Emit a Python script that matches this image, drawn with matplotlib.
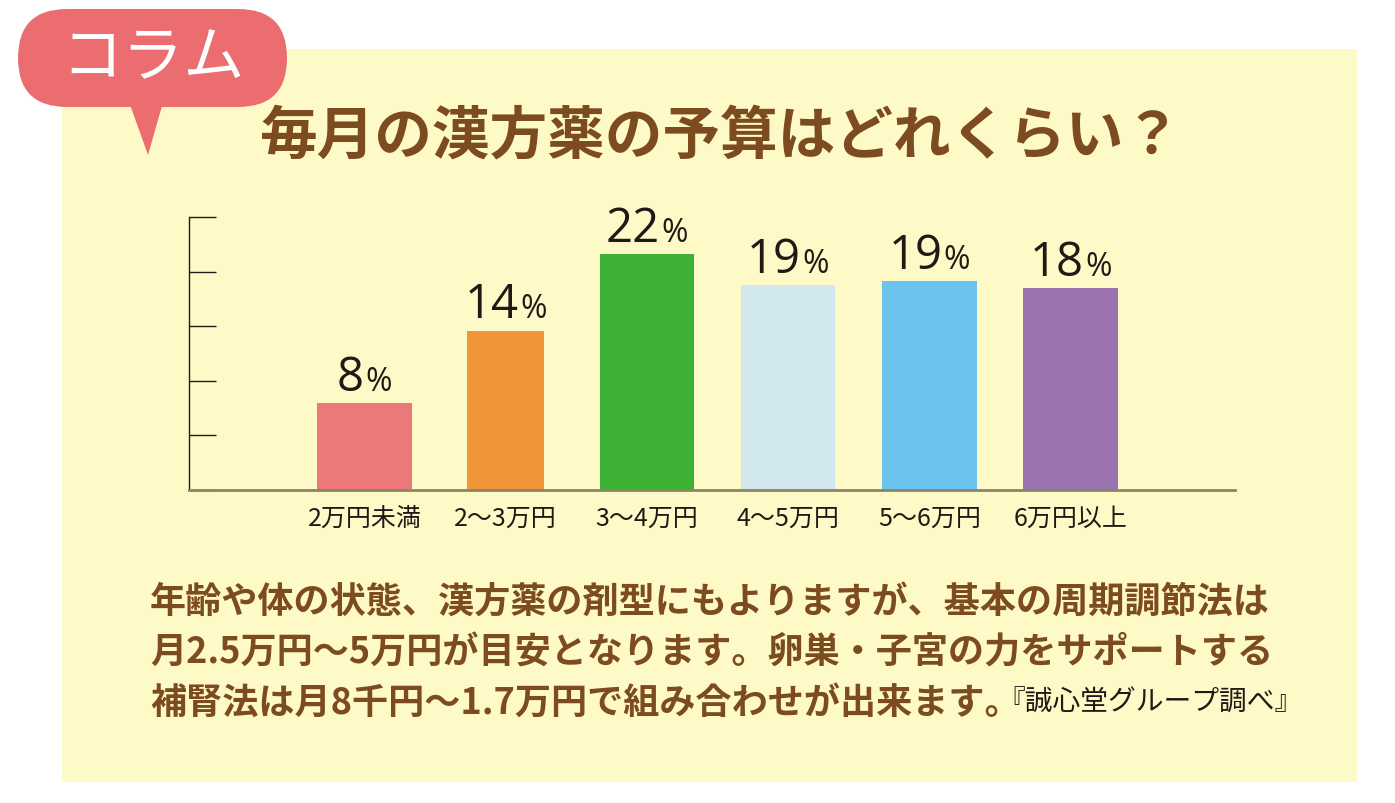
import matplotlib.pyplot as plt
from matplotlib.patches import FancyBboxPatch, Polygon, Rectangle
from matplotlib.offsetbox import TextArea, HPacker, AnnotationBbox

plt.rcParams['font.family'] = ['Noto Sans CJK JP', 'DejaVu Sans']

# data
categories = ['2万円未満', '2〜3万円', '3〜4万円', '4〜5万円', '5〜6万円', '6万円以上']
shares = [8.0, 14.6, 21.6, 18.8, 19.1, 18.5]
share_labels = ['8', '14', '22', '19', '19', '18']
title = '毎月の漢方薬の予算はどれくらい？'
note_lines = ['年齢や体の状態、漢方薬の剤型にもよりますが、基本の周期調節法は',
              '月2.5万円〜5万円が目安となります。卵巣・子宮の力をサポートする',
              '補腎法は月8千円〜1.7万円で組み合わせが出来ます。']
source = '『誠心堂グループ調べ』'

bar_colors = ['#EC7979', '#F19539', '#3EB034', '#D1E8EF', '#6BC3EE', '#9A72AE']
bar_widths = [0.67, 0.545, 0.67, 0.67, 0.67, 0.67]
brown = '#7D4B20'
ink = '#231815'

fig = plt.figure(figsize=(13.95, 8.04), dpi=100)
fig.patch.set_facecolor('white')

# background layer in pixel units
bg = fig.add_axes([0, 0, 1, 1], zorder=0)
bg.set_xlim(0, 1395)
bg.set_ylim(804, 0)
bg.axis('off')
bg.add_patch(Rectangle((62, 50), 1295, 733, color='#FEFAC7', lw=0))
bg.add_patch(FancyBboxPatch((18, 10), 269, 98, boxstyle='round,pad=0,rounding_size=49',
                            color='#EB6D6F', lw=0))
bg.add_patch(Polygon([(128, 100), (164, 100), (148, 156)], closed=True, color='#EB6D6F', lw=0))
bg.text(153, 59, 'コラム', color='white', fontsize=44, ha='center', va='center')
bg.text(721, 137, title, color=brown, fontsize=41.5, fontweight='bold', ha='center', va='center')

y0 = 603
last = None
for line in note_lines:
    last = bg.text(150, y0, line, color=brown, fontsize=26, fontweight='bold',
                   ha='left', va='center')
    y0 += 50
bg.annotate(source, xy=(1, 0.1), xycoords=last, xytext=(-17, 0), textcoords='offset points',
            color=ink, fontsize=20, ha='left', va='bottom')

# chart
ax = fig.add_axes([189 / 1395, 313 / 804, 1046 / 1395, 273 / 804], zorder=1)
ax.patch.set_alpha(0)
x = range(len(categories))
ax.bar(x, shares, width=bar_widths, color=bar_colors, zorder=2)
ax.set_xlim(-1.243, 6.165)
ax.set_ylim(0, 25)
ax.set_yticks([0, 5, 10, 15, 20, 25])
ax.set_yticklabels([])
ax.tick_params(axis='y', direction='in', length=19.5, width=1, color=ink)
ax.set_xticks(list(x))
ax.set_xticklabels(categories, fontsize=18, color=ink)
ax.tick_params(axis='x', length=0, pad=11)
for side in ['top', 'right']:
    ax.spines[side].set_visible(False)
ax.spines['left'].set_color(ink)
ax.spines['left'].set_linewidth(1)
ax.spines['bottom'].set_color('#8C8466')
ax.spines['bottom'].set_linewidth(2)

for i in x:
    num = TextArea(share_labels[i], textprops=dict(fontsize=34, family='Open Sans', color=ink))
    pct = TextArea('%', textprops=dict(fontsize=23, family='Open Sans', color=ink))
    box = HPacker(children=[num, pct], align='baseline', pad=0, sep=1)
    ab = AnnotationBbox(box, (i, shares[i]), xybox=(0, 1.5), xycoords='data',
                        boxcoords='offset points', box_alignment=(0.5, 0), frameon=False)
    ax.add_artist(ab)

plt.savefig('out.png', dpi=100)
